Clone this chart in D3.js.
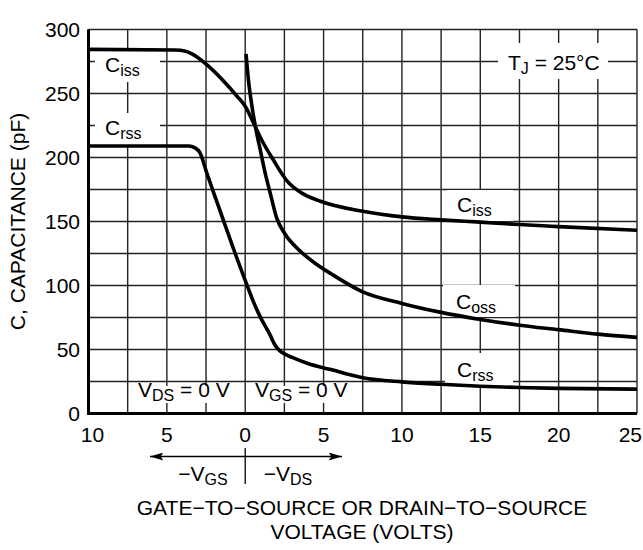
<!DOCTYPE html>
<html>
<head>
<meta charset="utf-8">
<script src="https://cdn.jsdelivr.net/npm/d3@7"></script>
<style>
  body { margin: 0; background: #fff; }
  svg text { font-family: "Liberation Sans", Arial, sans-serif; fill: #000; }
</style>
</head>
<body>
<div id="chart"></div>
<script>
// capacitance curves, [volts, pF]; negative volts = -VGS side
const ciss = [
  [-10, 284.5], [-4.5, 284], [-3.8, 283], [-3.4, 281], [-2.4, 272], [-1.4, 260],
  [-0.53, 248], [0, 240], [0.53, 227], [1.06, 213.5], [1.8, 198], [2.65, 182],
  [3.5, 173], [4.8, 165.8], [7.5, 158], [10, 153.6], [12.5, 151.3], [15, 149.5],
  [17.5, 147.6], [20, 146], [25, 143.2]
];
const coss = [
  [0.05, 281], [0.21, 260], [0.43, 240], [0.7, 221], [0.96, 206], [1.27, 188],
  [1.6, 172], [2.0, 153], [2.5, 141], [3.5, 127], [4.5, 117], [5.5, 109],
  [7.5, 95], [10, 86], [12.5, 79], [15, 73.5], [17.5, 69], [20, 65.5],
  [22.5, 62], [25, 59.5]
];
const crss = [
  [-10, 209], [-3.6, 209], [-3.2, 207.5], [-2.9, 204], [-2.44, 187.5], [-2.0, 172],
  [-1.48, 154], [-0.96, 136], [-0.64, 125], [0, 104], [0.5, 88], [0.96, 75.5],
  [1.6, 61], [1.9, 53.5], [2.2, 49], [2.6, 46], [3, 43.8], [4, 39], [5.4, 34.5],
  [7.5, 28], [10, 24.7], [12.5, 22.8], [15, 21.3], [17.5, 20.3], [20, 19.6], [25, 19]
];
const xTicks = [-10, -5, 0, 5, 10, 15, 20, 25];
const yTicks = [0, 50, 100, 150, 200, 250, 300];

const width = 643;
const height = 550;
const margin = { top: 29.5, right: 6, bottom: 136.5, left: 88.5 };
const fs = "21px";
const subFs = "16px";

const x = d3.scaleLinear().domain([-10, 25]).range([margin.left, width - margin.right]);
const y = d3.scaleLinear().domain([0, 300]).range([height - margin.bottom, margin.top]);

const svg = d3.select("#chart")
  .append("svg")
  .attr("width", width)
  .attr("height", height);

// grid
const grid = svg.append("g").attr("stroke", "#222").attr("stroke-width", 1.4);
grid.selectAll("line.v")
  .data(d3.range(-10, 25.01, 2.5))
  .join("line")
  .attr("x1", d => x(d)).attr("x2", d => x(d))
  .attr("y1", y(0)).attr("y2", y(300));
grid.selectAll("line.h")
  .data(d3.range(0, 300.01, 25))
  .join("line")
  .attr("class", "h")
  .attr("x1", x(-10)).attr("x2", x(25))
  .attr("y1", d => y(d)).attr("y2", d => y(d));

// white patches behind labels (grid breaks)
const patches = [
  [95, 50, 65, 32], [95, 113, 65, 32],
  [498, 43, 110, 36],
  [447, 190, 66, 31], [443, 285, 72, 32], [445, 353, 68, 32],
  [130, 386, 111, 17], [249, 386, 113, 17]
];
svg.append("g").selectAll("rect")
  .data(patches)
  .join("rect")
  .attr("x", d => d[0]).attr("y", d => d[1])
  .attr("width", d => d[2]).attr("height", d => d[3])
  .attr("fill", "#fff");

// thick axes
svg.append("line")
  .attr("x1", x(-10)).attr("x2", x(-10))
  .attr("y1", y(0) + 1.5).attr("y2", y(300))
  .attr("stroke", "#000").attr("stroke-width", 3);
svg.append("line")
  .attr("x1", x(-10)).attr("x2", x(25))
  .attr("y1", y(0)).attr("y2", y(0))
  .attr("stroke", "#000").attr("stroke-width", 3);

// curves
const line = d3.line()
  .x(d => x(d[0]))
  .y(d => y(d[1]))
  .curve(d3.curveMonotoneX);
svg.append("g")
  .selectAll("path")
  .data([ciss, coss, crss])
  .join("path")
  .attr("d", line)
  .attr("fill", "none")
  .attr("stroke", "#000")
  .attr("stroke-width", 3.6);

// tick labels
svg.append("g")
  .selectAll("text")
  .data(yTicks)
  .join("text")
  .attr("x", 80)
  .attr("y", d => y(d) + 7.5)
  .attr("text-anchor", "end")
  .style("font-size", fs)
  .text(d => d);
svg.append("g")
  .selectAll("text")
  .data(xTicks)
  .join("text")
  .attr("x", d => d === 25 ? 642 : x(d) + (d === -10 ? 4 : 0))
  .attr("y", 442)
  .attr("text-anchor", d => d === 25 ? "end" : "middle")
  .style("font-size", fs)
  .text(d => Math.abs(d));

// label helper with subscript
function subLabel(px, py, main, sub, rest) {
  const t = svg.append("text")
    .attr("x", px).attr("y", py)
    .style("font-size", fs);
  t.append("tspan").text(main);
  t.append("tspan").attr("dy", 4).style("font-size", subFs).text(sub);
  if (rest) t.append("tspan").attr("dy", -4).text(rest);
  return t;
}

subLabel(105, 72, "C", "iss");
subLabel(105, 135, "C", "rss");
subLabel(457, 212, "C", "iss");
subLabel(456, 309, "C", "oss");
subLabel(457, 377, "C", "rss");
subLabel(508, 70, "T", "J", " = 25\u00B0C");
subLabel(138, 397, "V", "DS", " = 0 V");
subLabel(255, 397, "V", "GS", " = 0 V");

// direction arrows under x axis
const defs = svg.append("defs");
defs.append("marker")
  .attr("id", "arr")
  .attr("viewBox", "0 0 10 6")
  .attr("refX", 10).attr("refY", 3)
  .attr("markerWidth", 20).attr("markerHeight", 8)
  .attr("markerUnits", "userSpaceOnUse")
  .attr("orient", "auto-start-reverse")
  .append("path")
  .attr("d", "M0,0 L10,3 L0,6 L2,3 Z")
  .attr("fill", "#000");
svg.append("line")
  .attr("x1", 150).attr("x2", 342)
  .attr("y1", 456.5).attr("y2", 456.5)
  .attr("stroke", "#000").attr("stroke-width", 1.3)
  .attr("marker-start", "url(#arr)")
  .attr("marker-end", "url(#arr)");
svg.append("line")
  .attr("x1", x(0)).attr("x2", x(0))
  .attr("y1", 448).attr("y2", 484)
  .attr("stroke", "#000").attr("stroke-width", 1.3);
subLabel(203, 481, "\u2212V", "GS").attr("text-anchor", "middle");
subLabel(288, 481, "\u2212V", "DS").attr("text-anchor", "middle");

// axis titles
svg.append("text")
  .attr("x", 362).attr("y", 515)
  .attr("text-anchor", "middle")
  .style("font-size", fs)
  .text("GATE\u2212TO\u2212SOURCE OR DRAIN\u2212TO\u2212SOURCE");
svg.append("text")
  .attr("x", 362).attr("y", 539)
  .attr("text-anchor", "middle")
  .style("font-size", fs)
  .text("VOLTAGE (VOLTS)");
svg.append("text")
  .attr("transform", `translate(25, ${(y(0) + y(300)) / 2}) rotate(-90)`)
  .attr("text-anchor", "middle")
  .style("font-size", fs)
  .text("C, CAPACITANCE (pF)");
</script>
</body>
</html>
